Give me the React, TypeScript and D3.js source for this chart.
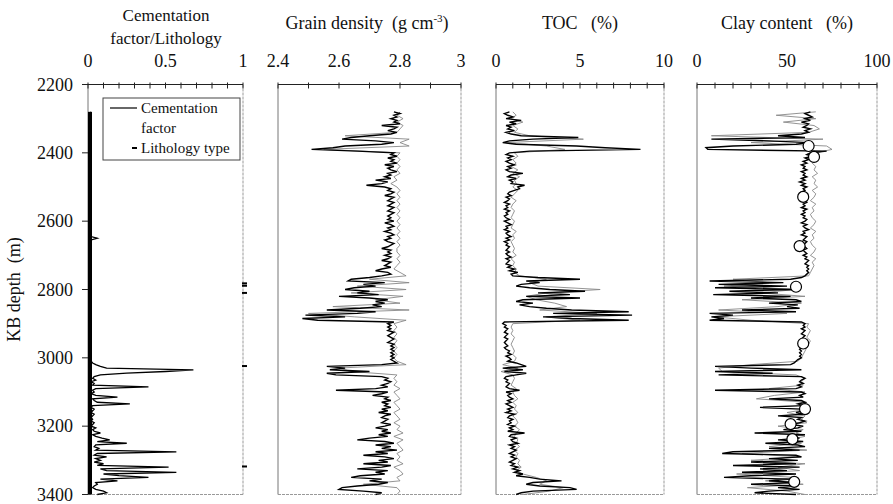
import React from 'react';
import * as d3 from 'd3';

// ---------- data ----------
const depthTicks = [2200, 2400, 2600, 2800, 3000, 3200, 3400];
const logStart = 2280; // m, first sample of every log
const fineStep = 5;    // m, spacing of black curves
const coarseStep = 10; // m, spacing of grey curves

// Cementation factor (5 m samples from 2280 m)
const cementation = [
  0.02, 0.01, 0.02, 0.01, 0.02, 0.015, 0.01, 0.02, 0.01, 0.02, 0.015, 0.01, 0.02, 0.01, 0.02, 0.01, 0.015, 0.02, 0.01, 0.02,
  0.01, 0.02, 0.015, 0.01, 0.02, 0.01, 0.02, 0.015, 0.01, 0.02, 0.01, 0.02, 0.01, 0.015, 0.02, 0.01, 0.02, 0.01, 0.02, 0.015,
  0.02, 0.01, 0.02, 0.015, 0.01, 0.02, 0.01, 0.02, 0.01, 0.015, 0.02, 0.01, 0.02, 0.01, 0.02, 0.015, 0.01, 0.02, 0.01, 0.02,
  0.01, 0.02, 0.01, 0.015, 0.02, 0.01, 0.02, 0.01, 0.02, 0.015, 0.01, 0.02, 0.01, 0.02, 0.06, 0.02, 0.01, 0.02, 0.015, 0.01,
  0.02, 0.01, 0.02, 0.01, 0.015, 0.02, 0.01, 0.02, 0.015, 0.01, 0.02, 0.01, 0.02, 0.01, 0.02, 0.015, 0.01, 0.02, 0.01, 0.02,
  0.01, 0.02, 0.015, 0.01, 0.02, 0.01, 0.02, 0.01, 0.015, 0.02, 0.01, 0.02, 0.01, 0.02, 0.015, 0.01, 0.02, 0.01, 0.02, 0.01,
  0.02, 0.01, 0.02, 0.015, 0.01, 0.02, 0.01, 0.02, 0.01, 0.015, 0.02, 0.01, 0.02, 0.01, 0.02, 0.015, 0.01, 0.02, 0.01, 0.02,
  0.02, 0.01, 0.02, 0.01, 0.02, 0.01, 0.02, 0.03, 0.05, 0.08, 0.12, 0.68, 0.50, 0.25, 0.08, 0.04, 0.03, 0.05, 0.02, 0.04,
  0.03, 0.39, 0.05, 0.03, 0.04, 0.02, 0.05, 0.19, 0.03, 0.04, 0.06, 0.27, 0.03, 0.02, 0.04, 0.03, 0.02, 0.04, 0.03, 0.02,
  0.03, 0.02, 0.04, 0.03, 0.02, 0.05, 0.03, 0.04, 0.08, 0.03, 0.05, 0.09, 0.14, 0.06, 0.25, 0.05, 0.04, 0.07, 0.05, 0.57,
  0.06, 0.04, 0.12, 0.05, 0.08, 0.04, 0.10, 0.06, 0.52, 0.08, 0.12, 0.57, 0.10, 0.20, 0.39, 0.08, 0.19, 0.05, 0.06, 0.04,
  0.03, 0.05, 0.10, 0.12, 0.06,
];

// Lithology type: shale column (type 0) and sand markers (type 1)
const lithoColumnTop = 2280;
const lithoColumnBottom = 3400;
const lithoMarkerDepths = [2782, 2789, 2810, 3024, 3318];

// Grain density, g/cm3 (black: 5 m samples, grey: 10 m samples)
const grainDensity = [
  2.78, 2.80, 2.78, 2.79, 2.77, 2.79, 2.78, 2.80, 2.74, 2.79, 2.78, 2.76, 2.79, 2.77, 2.70, 2.64, 2.61, 2.72, 2.78, 2.74,
  2.62, 2.58, 2.51, 2.66, 2.78, 2.77, 2.79, 2.76, 2.78, 2.77, 2.79, 2.75, 2.78, 2.76, 2.77, 2.79, 2.76, 2.77, 2.75, 2.77,
  2.72, 2.76, 2.74, 2.69, 2.75, 2.77, 2.76, 2.78, 2.77, 2.75, 2.78, 2.77, 2.76, 2.78, 2.77, 2.76, 2.78, 2.77, 2.76, 2.78,
  2.77, 2.76, 2.77, 2.76, 2.78, 2.75, 2.77, 2.78, 2.76, 2.77, 2.75, 2.77, 2.78, 2.76, 2.77, 2.75, 2.76, 2.78, 2.77, 2.76,
  2.74, 2.77, 2.76, 2.77, 2.75, 2.77, 2.76, 2.74, 2.77, 2.76, 2.75, 2.77, 2.74, 2.72, 2.76, 2.77, 2.74, 2.70, 2.64, 2.63,
  2.75, 2.68, 2.72, 2.65, 2.62, 2.70, 2.66, 2.73, 2.60, 2.70, 2.76, 2.72, 2.75, 2.71, 2.74, 2.67, 2.56, 2.72, 2.66, 2.49,
  2.62, 2.48, 2.53, 2.78, 2.76, 2.77, 2.76, 2.77, 2.76, 2.78, 2.77, 2.76, 2.77, 2.78, 2.77, 2.76, 2.78, 2.77, 2.78, 2.77,
  2.78, 2.77, 2.78, 2.77, 2.78, 2.77, 2.78, 2.79, 2.74, 2.56, 2.62, 2.57, 2.70, 2.56, 2.59, 2.74, 2.76, 2.75, 2.77, 2.76,
  2.74, 2.76, 2.72, 2.59, 2.76, 2.74, 2.71, 2.76, 2.75, 2.77, 2.74, 2.76, 2.75, 2.77, 2.74, 2.76, 2.73, 2.77, 2.75, 2.74,
  2.76, 2.75, 2.74, 2.77, 2.75, 2.72, 2.76, 2.74, 2.77, 2.73, 2.76, 2.70, 2.66, 2.75, 2.78, 2.72, 2.77, 2.74, 2.79, 2.72,
  2.76, 2.68, 2.75, 2.78, 2.73, 2.76, 2.68, 2.77, 2.74, 2.66, 2.76, 2.72, 2.75, 2.67, 2.64, 2.74, 2.70, 2.76, 2.73, 2.66,
  2.61, 2.60, 2.68, 2.74, 2.72,
];
const grainDensityGrey = [
  2.80, 2.79, 2.81, 2.79, 2.81, 2.80, 2.79, 2.62, 2.83, 2.80,
  2.83, 2.55, 2.80, 2.79, 2.80, 2.79, 2.80, 2.79, 2.80, 2.78,
  2.79, 2.77, 2.79, 2.80, 2.79, 2.80, 2.79, 2.80, 2.79, 2.80,
  2.79, 2.80, 2.79, 2.80, 2.79, 2.80, 2.79, 2.80, 2.79, 2.80,
  2.79, 2.79, 2.80, 2.79, 2.80, 2.79, 2.78, 2.80, 2.82, 2.70,
  2.83, 2.66, 2.82, 2.64, 2.81, 2.72, 2.80, 2.58, 2.83, 2.50,
  2.65, 2.82, 2.78, 2.79, 2.78, 2.79, 2.78, 2.79, 2.78, 2.79,
  2.78, 2.79, 2.78, 2.79, 2.82, 2.60, 2.64, 2.79, 2.78, 2.79,
  2.78, 2.80, 2.78, 2.79, 2.80, 2.78, 2.79, 2.80, 2.78, 2.79,
  2.80, 2.78, 2.80, 2.79, 2.81, 2.78, 2.81, 2.79, 2.80, 2.81,
  2.79, 2.80, 2.79, 2.81, 2.78, 2.80, 2.81, 2.79, 2.80, 2.68,
  2.79, 2.80, 2.79,
];

// TOC, %
const toc = [
  0.8, 0.5, 0.7, 1.0, 0.6, 1.5, 0.8, 1.2, 0.6, 0.9, 0.7, 1.1, 0.6, 0.9, 1.5, 4.9, 2.2, 0.8, 0.4, 1.2,
  4.8, 6.5, 8.6, 2.0, 0.8, 0.6, 1.0, 0.7, 0.9, 0.6, 0.8, 1.1, 0.7, 0.9, 0.6, 0.8, 1.6, 0.9, 0.7, 1.2,
  0.8, 1.0, 0.9, 1.7, 1.3, 1.4, 1.1, 0.8, 0.7, 0.9, 0.6, 0.8, 0.7, 0.5, 0.8, 0.6, 0.7, 0.5, 0.8, 0.6,
  0.7, 0.5, 0.6, 0.8, 0.5, 0.7, 0.9, 0.6, 0.7, 0.5, 0.8, 0.6, 0.7, 0.9, 0.6, 0.8, 0.5, 0.7, 0.6, 0.8,
  0.7, 0.6, 0.8, 0.6, 0.7, 0.9, 0.6, 0.8, 0.7, 0.6, 0.9, 0.7, 1.1, 0.8, 1.3, 0.9, 1.0, 2.5, 5.0, 1.8,
  2.6, 1.5, 1.2, 2.0, 3.2, 5.3, 2.5, 4.4, 1.8, 5.0, 1.6, 1.2, 2.2, 1.4, 2.0, 3.0, 4.5, 7.9, 3.4, 8.1,
  2.8, 4.5, 7.9, 0.5, 0.4, 0.6, 0.5, 0.7, 0.6, 0.5, 0.7, 0.6, 0.5, 0.7, 0.6, 0.5, 0.6, 0.7, 0.5, 0.6,
  0.8, 0.7, 0.9, 0.6, 0.8, 0.9, 0.7, 1.2, 1.5, 1.8, 0.4, 1.6, 0.5, 1.8, 1.2, 0.6, 0.5, 0.7, 0.6, 0.8,
  0.7, 0.6, 0.8, 1.4, 0.6, 0.9, 0.7, 0.8, 1.0, 0.7, 0.9, 0.6, 0.8, 1.0, 0.7, 0.9, 0.6, 1.1, 0.8, 0.7,
  1.0, 0.8, 0.9, 0.7, 1.1, 0.8, 1.0, 0.7, 1.7, 0.9, 0.8, 1.2, 0.9, 1.0, 1.3, 0.8, 1.1, 0.9, 1.2, 1.0,
  0.8, 1.1, 0.9, 1.2, 1.0, 0.8, 1.1, 0.9, 1.3, 1.0, 1.4, 1.1, 1.6, 1.2, 2.0, 2.6, 3.9, 2.2, 1.8, 2.6,
  4.4, 4.8, 2.2, 1.5, 1.2,
];
const tocGrey = [
  1.0, 1.2, 0.9, 1.6, 1.0, 1.3, 1.1, 2.0, 5.2, 0.6,
  3.0, 4.1, 1.1, 1.3, 1.0, 1.2, 0.9, 1.3, 1.0, 1.4,
  1.1, 1.2, 1.0, 1.3, 1.1, 0.9, 1.2, 1.0, 0.9, 1.1,
  1.0, 0.9, 1.1, 1.0, 0.9, 1.2, 1.0, 1.1, 0.9, 1.0,
  1.1, 1.0, 1.2, 0.9, 1.1, 1.0, 1.2, 1.1, 1.4, 3.0,
  2.0, 2.5, 6.2, 3.0, 1.8, 2.4, 3.5, 4.2, 2.6, 6.0,
  3.0, 5.0, 1.0, 0.9, 1.0, 0.9, 1.1, 1.0, 0.9, 1.0,
  1.1, 1.0, 1.2, 1.1, 0.4, 1.3, 0.3, 1.0, 1.1, 1.0,
  0.9, 1.2, 1.0, 1.1, 1.3, 1.0, 1.2, 1.1, 1.3, 1.0,
  1.2, 1.3, 1.1, 1.4, 1.2, 1.1, 1.3, 1.2, 1.4, 1.1,
  1.3, 1.2, 1.4, 1.3, 1.5, 1.2, 1.6, 2.4, 3.0, 2.6,
  4.0, 3.2, 1.6,
];

// Clay content, %
const clay = [
  63, 60, 62, 64, 60, 63, 58, 62, 61, 59, 63, 60, 62, 58, 45, 60, 8, 40, 62, 55,
  20, 5, 6, 72, 63, 61, 64, 60, 62, 59, 61, 58, 60, 59, 61, 58, 60, 59, 61, 58,
  60, 57, 60, 58, 61, 59, 60, 58, 61, 59, 60, 58, 60, 61, 59, 60, 58, 61, 59, 60,
  58, 60, 59, 61, 60, 58, 61, 59, 60, 62, 59, 60, 58, 61, 60, 59, 61, 60, 58, 60,
  61, 59, 60, 61, 59, 61, 60, 62, 61, 60, 62, 61, 62, 61, 62, 61, 60, 58, 52, 7,
  48, 12, 50, 10, 55, 18, 45, 9, 52, 30, 55, 58, 40, 56, 50, 57, 25, 55, 7, 20,
  8, 15, 7, 58, 60, 59, 60, 58, 60, 59, 58, 60, 59, 58, 60, 59, 58, 59, 58, 57,
  58, 57, 58, 57, 58, 56, 55, 54, 52, 10, 30, 58, 10, 42, 12, 58, 60, 58, 57, 59,
  56, 58, 55, 10, 58, 60, 57, 59, 40, 58, 60, 56, 59, 35, 58, 60, 55, 59, 45, 58,
  56, 60, 57, 52, 59, 56, 48, 58, 32, 60, 50, 57, 45, 59, 38, 56, 60, 40, 57, 20,
  14, 55, 58, 40, 56, 30, 55, 20, 57, 35, 50, 25, 55, 30, 15, 52, 40, 56, 30, 55,
  45, 57, 40, 32, 55,
];
const clayGrey = [
  66, 44, 66, 48, 65, 68, 62, 8, 70, 30,
  72, 75, 66, 65, 67, 64, 66, 65, 67, 64,
  66, 65, 67, 64, 66, 65, 63, 66, 64, 65,
  63, 64, 66, 65, 63, 66, 64, 65, 63, 64,
  66, 65, 63, 66, 64, 65, 64, 63, 62, 20,
  40, 15, 55, 35, 60, 25, 58, 45, 12, 50,
  10, 30, 62, 61, 63, 62, 61, 63, 62, 61,
  60, 59, 58, 56, 30, 12, 14, 55, 60, 58,
  59, 40, 60, 43, 33, 61, 58, 62, 50, 60,
  58, 61, 45, 59, 55, 60, 50, 58, 40, 61,
  25, 58, 30, 60, 45, 57, 22, 55, 38, 59,
  28, 50, 60,
];

// Core measurements of clay content (depth m, clay %)
const coreDepths = [2380, 2412, 2529, 2673, 2792, 2958, 3150, 3194, 3238, 3363];
const coreClay = [62, 65, 59, 57, 55, 59, 60, 52, 53, 54];

// ---------- layout ----------
const W = 893;
const H = 504;
const FONT = "'Liberation Serif', 'Times New Roman', Times, serif";

type Panel = {
  key: string;
  x0: number;
  x1: number;
  domain: [number, number];
  tickCount: number;
  labels: number[];
};

const panels: Panel[] = [
  { key: 'cem', x0: 88, x1: 243, domain: [0, 1], tickCount: 10, labels: [0, 0.5, 1] },
  { key: 'gd', x0: 278, x1: 461, domain: [2.4, 3], tickCount: 6, labels: [2.4, 2.6, 2.8, 3] },
  { key: 'toc', x0: 496, x1: 664, domain: [0, 10], tickCount: 10, labels: [0, 5, 10] },
  { key: 'clay', x0: 697, x1: 877, domain: [0, 100], tickCount: 10, labels: [0, 50, 100] },
];

export default function App() {
  const y = d3.scaleLinear().domain([2200, 3400]).range([84.5, 494.5]);
  const xs = panels.map((p) => d3.scaleLinear().domain(p.domain).range([p.x0, p.x1]));
  const [xCem, xGd, xToc, xClay] = xs;
  const fmt = d3.format('~g');

  const pathFor = (values: number[], step: number, x: d3.ScaleLinear<number, number>) =>
    d3
      .line<number>()
      .x((v) => x(v))
      .y((_, i) => y(logStart + i * step))(values) || '';

  const border = '#777';

  return (
    <svg
      width={W}
      height={H}
      style={{ position: 'absolute', left: 0, top: 0, background: '#fff' }}
      fontFamily={FONT}
    >
      <rect x={0} y={0} width={W} height={H} fill="#fff" />

      {/* panel frames, ticks and labels */}
      {panels.map((p, i) => {
        const x = xs[i];
        return (
          <g key={p.key}>
            <line x1={p.x0} x2={p.x0} y1={y(2200)} y2={y(3400)} stroke={border} strokeWidth={1} />
            <line x1={p.x1} x2={p.x1} y1={y(2200)} y2={y(3400)} stroke="#999" strokeWidth={1} strokeDasharray="3 1" />
            <line x1={p.x0} x2={p.x1} y1={y(3400)} y2={y(3400)} stroke="#999" strokeWidth={1} strokeDasharray="3 1" />
            <line x1={p.x0} x2={p.x1} y1={y(2200)} y2={y(2200)} stroke="#222" strokeWidth={1} />
            {x.ticks(p.tickCount).map((t) => (
              <line key={t} x1={x(t)} x2={x(t)} y1={y(2200) - 2} y2={y(2200) + 4} stroke="#222" strokeWidth={1} />
            ))}
            {p.labels.map((t) => (
              <text key={t} x={x(t)} y={67} textAnchor="middle" fontSize={18} fill="#111">
                {fmt(t)}
              </text>
            ))}
          </g>
        );
      })}

      {/* titles */}
      <text x={166} y={21} textAnchor="middle" fontSize={17} fill="#111">Cementation</text>
      <text x={166} y={44} textAnchor="middle" fontSize={17} fill="#111">factor/Lithology</text>
      <text x={367} y={29} textAnchor="middle" fontSize={18} fill="#111" style={{ whiteSpace: 'pre' }}>
        {'Grain density  (g cm'}
        <tspan dy={-7} fontSize={11}>-3</tspan>
        <tspan dy={7}>)</tspan>
      </text>
      <text x={580} y={29} textAnchor="middle" fontSize={18} fill="#111" style={{ whiteSpace: 'pre' }}>
        {'TOC   (%)'}
      </text>
      <text x={787} y={29} textAnchor="middle" fontSize={18} fill="#111" style={{ whiteSpace: 'pre' }}>
        {'Clay content   (%)'}
      </text>

      {/* depth axis */}
      {depthTicks.map((d) => (
        <g key={d}>
          <line x1={82} x2={88} y1={y(d)} y2={y(d)} stroke="#222" strokeWidth={1} />
          <text x={73} y={y(d) + 6} textAnchor="end" fontSize={18} fill="#111">{d}</text>
        </g>
      ))}
      <text
        transform={`translate(20, ${y(2800)}) rotate(-90)`}
        textAnchor="middle"
        fontSize={18}
        fill="#111"
        style={{ whiteSpace: 'pre' }}
      >
        {'KB depth  (m)'}
      </text>

      {/* panel 1: lithology + cementation */}
      <rect
        x={xCem(0)}
        y={y(lithoColumnTop)}
        width={4}
        height={y(lithoColumnBottom) - y(lithoColumnTop)}
        fill="#000"
      />
      {lithoMarkerDepths.map((d) => (
        <line key={d} x1={xCem(1) - 1} x2={xCem(1) + 4} y1={y(d)} y2={y(d)} stroke="#000" strokeWidth={2} />
      ))}
      <path d={pathFor(cementation, fineStep, xCem)} fill="none" stroke="#000" strokeWidth={1.3} />

      {/* panel 2: grain density */}
      <path d={pathFor(grainDensityGrey, coarseStep, xGd)} fill="none" stroke="#888" strokeWidth={0.9} />
      <path d={pathFor(grainDensity, fineStep, xGd)} fill="none" stroke="#000" strokeWidth={1.4} />

      {/* panel 3: TOC */}
      <path d={pathFor(tocGrey, coarseStep, xToc)} fill="none" stroke="#888" strokeWidth={0.9} />
      <path d={pathFor(toc, fineStep, xToc)} fill="none" stroke="#000" strokeWidth={1.4} />

      {/* panel 4: clay */}
      <path d={pathFor(clayGrey, coarseStep, xClay)} fill="none" stroke="#888" strokeWidth={0.9} />
      <path d={pathFor(clay, fineStep, xClay)} fill="none" stroke="#000" strokeWidth={1.4} />
      {coreDepths.map((d, i) => (
        <circle key={d} cx={xClay(coreClay[i])} cy={y(d)} r={5.5} fill="#fff" stroke="#000" strokeWidth={1.2} />
      ))}

      {/* legend */}
      <g>
        <rect x={103} y={98} width={137} height={62} fill="#fff" stroke="#444" strokeWidth={1} />
        <line x1={110} x2={137} y1={108} y2={108} stroke="#000" strokeWidth={1.2} />
        <text x={141} y={113} fontSize={15} fill="#111">Cementation</text>
        <text x={141} y={133} fontSize={15} fill="#111">factor</text>
        <line x1={132} x2={137} y1={148} y2={148} stroke="#000" strokeWidth={2} />
        <text x={141} y={153} fontSize={15} fill="#111">Lithology type</text>
      </g>
    </svg>
  );
}
